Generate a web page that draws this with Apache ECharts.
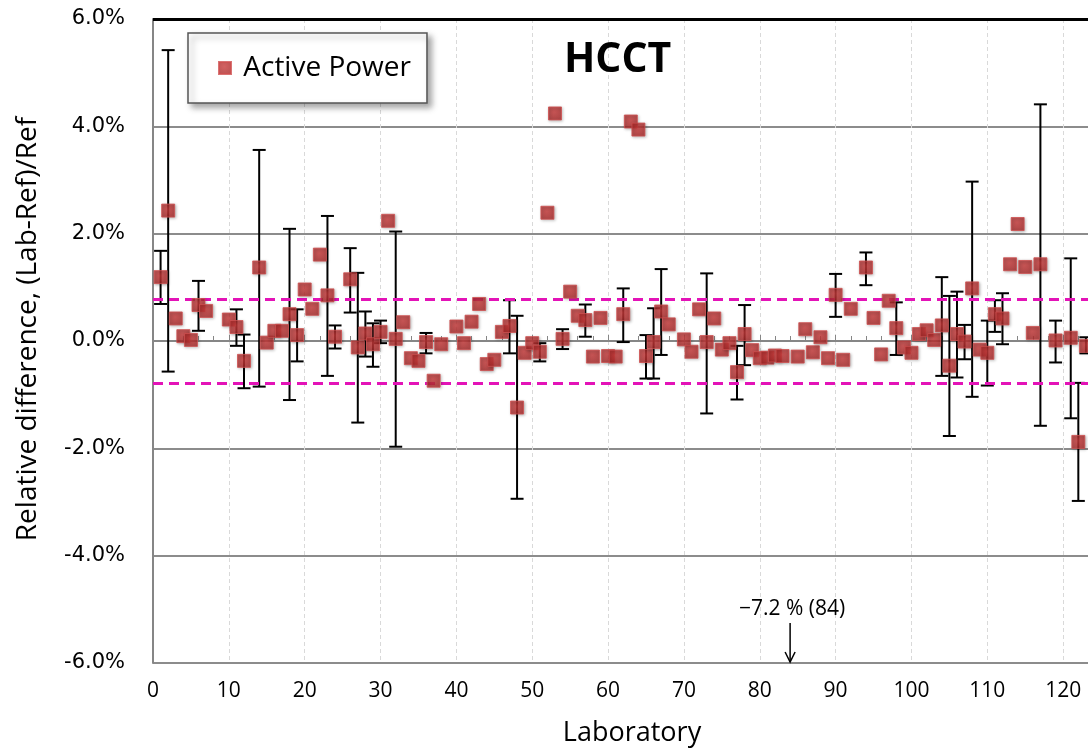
<!DOCTYPE html>
<html><head><meta charset="utf-8">
<script src="https://cdn.jsdelivr.net/npm/echarts@6/dist/echarts.min.js"></script>
<style>html,body{margin:0;padding:0;background:#fff}#c{width:1088px;height:749px}</style>
</head><body><div id="c"></div>
<script>
// ---- data (values in %) ----
const labs = [1,2,3,4,5,6,7,10,11,12,14,15,16,17,18,19,20,21,22,23,24,26,27,28,29,30,31,32,33,34,35,36,37,38,40,41,42,43,44,45,46,47,48,49,50,51,52,53,54,55,56,57,58,59,60,61,62,63,64,65,66,67,68,70,71,72,73,74,75,76,77,78,79,80,81,82,83,84,85,86,87,88,89,90,91,92,94,95,96,97,98,99,100,101,102,103,104,105,106,107,108,109,110,111,112,113,114,115,116,117,119,121,122,123];
const values = [1.19,2.43,0.42,0.09,0.02,0.67,0.56,0.40,0.26,-0.37,1.37,-0.03,0.19,0.19,0.50,0.11,0.96,0.60,1.61,0.85,0.08,1.15,-0.12,0.14,-0.06,0.17,2.24,0.04,0.35,-0.32,-0.37,-0.02,-0.74,-0.06,0.27,-0.04,0.36,0.69,-0.43,-0.35,0.17,0.28,-1.24,-0.22,-0.04,-0.20,2.39,4.24,0.04,0.92,0.47,0.39,-0.29,0.43,-0.28,-0.29,0.50,4.09,3.94,-0.28,-0.02,0.55,0.31,0.03,-0.20,0.59,-0.02,0.42,-0.16,-0.04,-0.58,0.13,-0.17,-0.32,-0.31,-0.27,-0.28,-7.2,-0.29,0.22,-0.21,0.07,-0.32,0.86,-0.35,0.60,1.37,0.43,-0.25,0.75,0.24,-0.12,-0.22,0.13,0.20,0.02,0.29,-0.46,0.13,-0.01,0.98,-0.16,-0.22,0.50,0.42,1.43,2.18,1.38,0.15,1.43,0.01,0.06,-1.88,-0.09];
const errLabs = [1,2,6,11,12,14,18,19,23,24,26,27,28,29,30,32,36,47,48,51,54,57,62,65,66,67,73,77,78,90,94,98,104,105,106,107,108,110,111,112,117,119,121,122,123];
const errLow  = [0.69,-0.57,0.19,-0.09,-0.88,-0.85,-1.10,-0.38,-0.65,-0.14,0.53,-1.52,-0.29,-0.48,-0.04,-1.97,-0.23,-0.23,-2.94,-0.38,-0.15,0.08,-0.02,-0.70,-0.70,-0.26,-1.35,-1.09,-0.45,0.45,1.04,-0.26,-0.65,-1.77,-0.68,-0.34,-1.04,-0.83,0.17,-0.06,-1.58,-0.40,-1.44,-2.98,-0.23];
const errHigh = [1.68,5.42,1.12,0.59,0.12,3.56,2.09,0.59,2.33,0.29,1.73,1.27,0.55,0.33,0.38,2.04,0.15,0.76,0.47,-0.04,0.22,0.68,0.98,0.11,0.61,1.34,1.26,-0.09,0.67,1.25,1.65,0.72,1.19,0.84,0.92,0.30,2.97,0.38,0.76,0.89,4.41,0.38,1.54,-0.78,0.07];
const limits = [0.78, -0.78];
const yMin = -6, yMax = 6, yStep = 2;
const xMin = 0, xMax = 130, xStep = 10, xLastLabel = 120;
const seriesName = 'Active Power';
const titleText = 'HCCT';
const xName = 'Laboratory';
const yName = 'Relative difference, (Lab-Ref)/Ref';

const points = labs.map((l, i) => [l, values[i]]);
const bars = errLabs.map((l, i) => [l, errLow[i], errHigh[i]]);

const chart = echarts.init(document.getElementById('c'), null, {renderer: 'canvas'});
const magenta = '#E313B7';
const option = {
  animation: false,
  backgroundColor: '#fff',
  title: {
    text: titleText, left: 559, top: 35,
    textStyle: {fontFamily: 'Open Sans', fontWeight: 700, fontSize: 41, color: '#000'}
  },
  legend: {
    left: 188, top: 33, orient: 'horizontal',
    padding: [21, 16, 21, 30],
    backgroundColor: '#fff', borderColor: '#555', borderWidth: 1.5,
    shadowBlur: 6, shadowColor: 'rgba(0,0,0,0.35)', shadowOffsetX: 4, shadowOffsetY: 4,
    itemWidth: 12, itemHeight: 12, icon: 'rect',
    formatter: ' {name}',
    textStyle: {fontFamily: 'Open Sans', fontSize: 28, color: '#000'},
    data: [seriesName]
  },
  grid: {left: 153, right: -51, top: 19, bottom: 86, containLabel: false, outerBoundsMode: 'none'},
  xAxis: {
    type: 'value', min: xMin, max: xMax, interval: xStep,
    name: xName, nameLocation: 'middle', nameGap: 57,
    nameTextStyle: {fontFamily: 'Open Sans', fontSize: 27, color: '#000', padding: [0, 28, 0, 0]},
    axisLine: {show: true, lineStyle: {color: '#868686', width: 2}},
    axisTick: {show: true, inside: true, length: 6, lineStyle: {color: '#868686', width: 1}},
    minorTick: {show: true, splitNumber: 5, length: 5, lineStyle: {color: '#868686', width: 1}},
    axisLabel: {fontFamily: 'Open Sans', fontSize: 21, color: '#000', margin: 18,
      formatter: v => (v <= xLastLabel ? String(v) : '')},
    splitLine: {show: true, lineStyle: {color: '#d9d9d9', width: 1, type: [4, 3]}}
  },
  yAxis: {
    type: 'value', min: yMin, max: yMax, interval: yStep,
    name: yName, nameLocation: 'middle', nameRotate: 90, nameGap: 111,
    nameTextStyle: {fontFamily: 'Open Sans', fontSize: 28, color: '#000', padding: [0, 0, 0, 24]},
    axisLine: {show: true, lineStyle: {color: '#868686', width: 2}},
    axisTick: {show: false},
    axisLabel: {fontFamily: 'DejaVu Sans', fontSize: 21, color: '#000', margin: 28,
      formatter: v => v.toFixed(1) + '%'},
    splitLine: {show: true, lineStyle: {color: '#8c8c8c', width: 2}}
  },
  series: [
    {
      type: 'custom', name: 'err', z: 3, clip: true,
      data: bars,
      renderItem: function (params, api) {
        const x = api.value(0), lo = api.value(1), hi = api.value(2);
        const a = api.coord([x, hi]), b = api.coord([x, lo]);
        const hw = 6.5;
        const st = {stroke: '#000', lineWidth: 2};
        return {type: 'group', children: [
          {type: 'line', shape: {x1: a[0], y1: a[1], x2: b[0], y2: b[1]}, style: st},
          {type: 'line', shape: {x1: a[0] - hw, y1: a[1], x2: a[0] + hw, y2: a[1]}, style: st},
          {type: 'line', shape: {x1: b[0] - hw, y1: b[1], x2: b[0] + hw, y2: b[1]}, style: st}
        ]};
      }
    },
    {
      type: 'scatter', name: seriesName, z: 5, clip: true,
      symbol: 'rect', symbolSize: 13,
      data: points,
      itemStyle: {
        color: new echarts.graphic.RadialGradient(0.45, 0.4, 0.75, [
          {offset: 0, color: '#c83a3a'}, {offset: 1, color: '#a32424'}]),
        borderColor: '#d05050', borderWidth: 1,
        shadowBlur: 3, shadowColor: 'rgba(0,0,0,0.35)', shadowOffsetX: 1, shadowOffsetY: 1
      },
      markLine: {
        silent: true, symbol: ['none', 'none'], label: {show: false},
        data: [
          {yAxis: limits[0], lineStyle: {color: magenta, width: 3, type: [10, 6]}},
          {yAxis: limits[1], lineStyle: {color: magenta, width: 3, type: [10, 6]}},
          {yAxis: yMax, lineStyle: {color: '#000', width: 3, type: 'solid'}}
        ]
      }
    }
  ]
};
chart.setOption(option);

// annotation for off-scale points
const graphics = [];
labs.forEach((l, i) => {
  const v = values[i];
  if (v < yMin) {
    const tip = chart.convertToPixel({gridIndex: 0}, [l, yMin]);
    const top = tip[1] - 40;
    graphics.push(
      {type: 'text', x: tip[0] + 2, y: top - 14, z: 10,
       style: {text: '\u2212' + Math.abs(v).toFixed(1) + ' % (' + l + ')', fill: '#000',
               font: '21px "Open Sans"', align: 'center', verticalAlign: 'middle'}},
      {type: 'line', z: 10, shape: {x1: tip[0], y1: top, x2: tip[0], y2: tip[1] - 1},
       style: {stroke: '#000', lineWidth: 1.5}},
      {type: 'polyline', z: 10, shape: {points: [[tip[0] - 5, tip[1] - 11], [tip[0], tip[1] - 1], [tip[0] + 5, tip[1] - 11]]},
       style: {stroke: '#000', lineWidth: 1.5, fill: null}}
    );
  }
});
chart.setOption({graphic: graphics});
</script>
</body></html>
